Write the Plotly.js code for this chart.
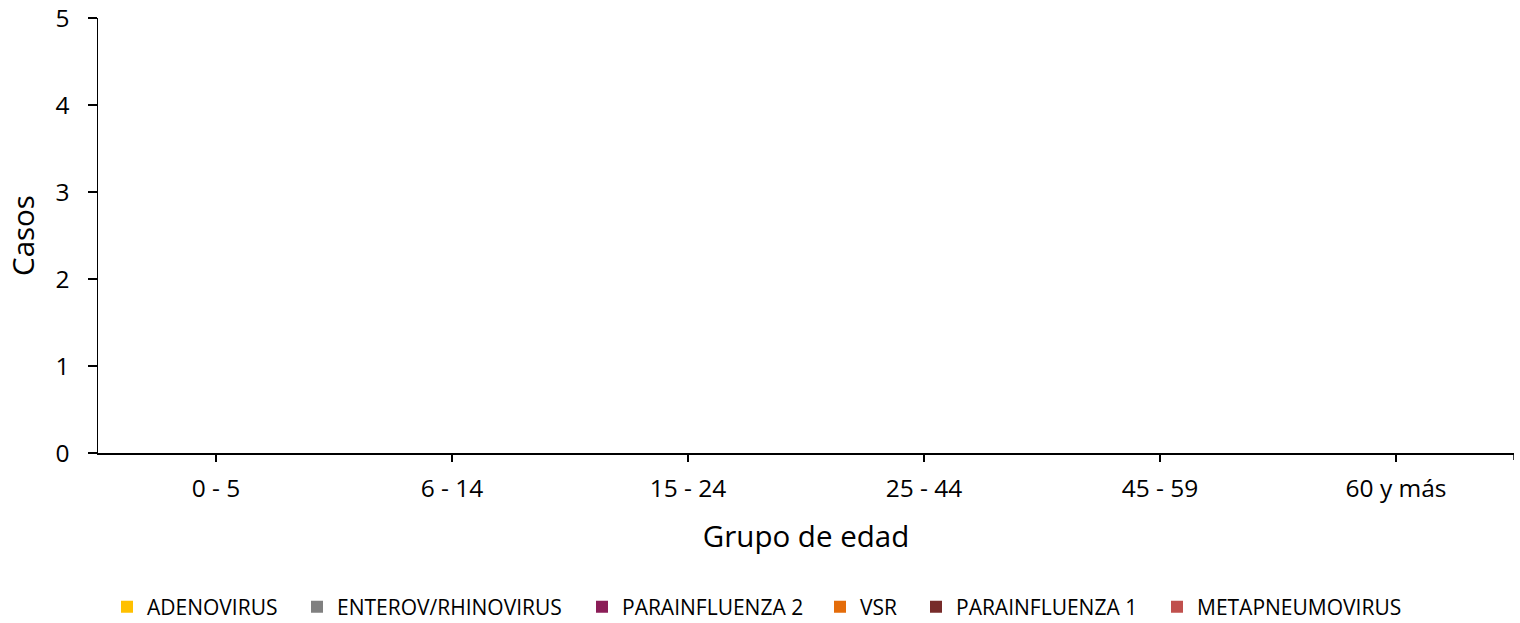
<!DOCTYPE html>
<html>
<head>
<meta charset="utf-8">
<script src="https://cdn.plot.ly/plotly-3.0.1.min.js"></script>
<style>
html,body{margin:0;padding:0;background:#fff;}
#chart{width:1520px;height:623px;}
</style>
</head>
<body>
<div id="chart"></div>
<script>
// Data (all groups show zero cases)
const categories = ["0 - 5", "6 - 14", "15 - 24", "25 - 44", "45 - 59", "60 y más"];
const seriesNames = ["ADENOVIRUS", "ENTEROV/RHINOVIRUS", "PARAINFLUENZA 2", "VSR", "PARAINFLUENZA 1", "METAPNEUMOVIRUS"];
const adenovirus = [0, 0, 0, 0, 0, 0];
const enterovRhinovirus = [0, 0, 0, 0, 0, 0];
const parainfluenza2 = [0, 0, 0, 0, 0, 0];
const vsr = [0, 0, 0, 0, 0, 0];
const parainfluenza1 = [0, 0, 0, 0, 0, 0];
const metapneumovirus = [0, 0, 0, 0, 0, 0];
const yTicks = [0, 1, 2, 3, 4, 5];

const seriesValues = [adenovirus, enterovRhinovirus, parainfluenza2, vsr, parainfluenza1, metapneumovirus];
const seriesColors = ["#FFC000", "#808080", "#8B1D57", "#E46C0A", "#772B2A", "#C0504D"];

const FONT = "'Open Sans', 'Noto Sans', sans-serif";
const plotLeft = 98, plotRight = 1514, plotTop = 18, plotBottom = 453;
const W = 1520, H = 623;
const pw = plotRight - plotLeft, ph = plotBottom - plotTop;
// legend marker left positions in pixels (layout only)
const legendPx = [124, 314, 599, 837, 933, 1174];
const legendCenterY = 607;

const traces = seriesNames.map((name, i) => ({
  type: "bar",
  name: name,
  x: categories,
  y: seriesValues[i],
  marker: {color: seriesColors[i], line: {width: 0}},
  legend: i === 0 ? "legend" : "legend" + (i + 1),
  hoverinfo: "x+y+name"
}));

const layout = {
  width: W, height: H,
  paper_bgcolor: "#ffffff",
  plot_bgcolor: "#ffffff",
  barmode: "stack",
  margin: {l: plotLeft, r: W - plotRight, t: plotTop, b: H - plotBottom, pad: 0, autoexpand: false},
  font: {family: FONT, color: "#000000"},
  xaxis: {
    type: "category",
    range: [-0.5, categories.length - 0.5],
    showline: true, linecolor: "#000000", linewidth: 1.5,
    ticks: "outside", ticklen: 7, tickwidth: 1.5, tickcolor: "#000000",
    showgrid: false, zeroline: false,
    tickfont: {family: FONT, size: 24.5, color: "#000000"},
    ticklabelstandoff: 6,
    title: {text: "Grupo de edad", font: {family: FONT, size: 29.5, color: "#000000"}, standoff: 23},
    automargin: false,
    fixedrange: true
  },
  yaxis: {
    range: [0, 5],
    tickvals: yTicks,
    ticktext: yTicks.map(String),
    showline: true, linecolor: "#000000", linewidth: 1.5,
    ticks: "outside", ticklen: 9, tickwidth: 1.5, tickcolor: "#000000",
    showgrid: false, zeroline: false,
    tickfont: {family: FONT, size: 24.5, color: "#000000"},
    ticklabelstandoff: 13,
    title: {text: "Casos", font: {family: FONT, size: 29.5, color: "#000000"}, standoff: 12},
    automargin: false,
    fixedrange: true
  },
  shapes: [{
    type: "line", xref: "x", yref: "paper",
    x0: categories.length - 0.5, x1: categories.length - 0.5,
    y0: 0, y1: -7 / ph,
    line: {color: "#000000", width: 1.5}
  }],
  showlegend: true
};

seriesNames.forEach((n, i) => {
  const key = i === 0 ? "legend" : "legend" + (i + 1);
  layout[key] = {
    orientation: "h",
    x: (legendPx[i] - 17 - plotLeft) / pw,
    xanchor: "left",
    y: (plotBottom - legendCenterY) / ph,
    yanchor: "middle",
    font: {family: FONT, size: 21, color: "#000000"},
    bgcolor: "rgba(0,0,0,0)",
    borderwidth: 0,
    itemclick: false, itemdoubleclick: false
  };
});

Plotly.newPlot("chart", traces, layout, {displayModeBar: false, staticPlot: true});
</script>
</body>
</html>
